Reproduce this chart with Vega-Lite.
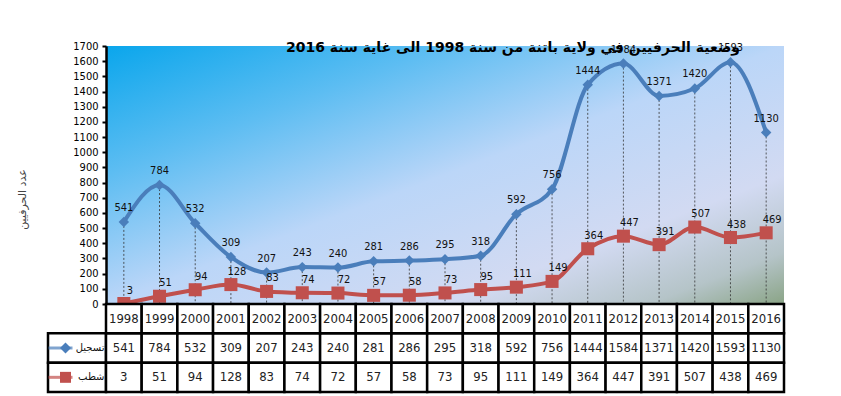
{
  "$schema": "https://vega.github.io/schema/vega-lite/v6.json",
  "background": "white",
  "padding": {"left": 16, "top": 40, "right": 0, "bottom": 0},
  "autosize": {"type": "pad"},
  "columns": 2,
  "spacing": 0,
  "bounds": "flush",
  "config": {"view": {"stroke": null}, "font": "DejaVu Sans Condensed, Liberation Sans Narrow, Liberation Sans, sans-serif"},
  "datasets": {
    "d": [
      {"year": "1998", "series": "تسجيل", "value": 541},
      {"year": "1999", "series": "تسجيل", "value": 784},
      {"year": "2000", "series": "تسجيل", "value": 532},
      {"year": "2001", "series": "تسجيل", "value": 309},
      {"year": "2002", "series": "تسجيل", "value": 207},
      {"year": "2003", "series": "تسجيل", "value": 243},
      {"year": "2004", "series": "تسجيل", "value": 240},
      {"year": "2005", "series": "تسجيل", "value": 281},
      {"year": "2006", "series": "تسجيل", "value": 286},
      {"year": "2007", "series": "تسجيل", "value": 295},
      {"year": "2008", "series": "تسجيل", "value": 318},
      {"year": "2009", "series": "تسجيل", "value": 592},
      {"year": "2010", "series": "تسجيل", "value": 756},
      {"year": "2011", "series": "تسجيل", "value": 1444},
      {"year": "2012", "series": "تسجيل", "value": 1584},
      {"year": "2013", "series": "تسجيل", "value": 1371},
      {"year": "2014", "series": "تسجيل", "value": 1420},
      {"year": "2015", "series": "تسجيل", "value": 1593},
      {"year": "2016", "series": "تسجيل", "value": 1130},
      {"year": "1998", "series": "شطب", "value": 3},
      {"year": "1999", "series": "شطب", "value": 51},
      {"year": "2000", "series": "شطب", "value": 94},
      {"year": "2001", "series": "شطب", "value": 128},
      {"year": "2002", "series": "شطب", "value": 83},
      {"year": "2003", "series": "شطب", "value": 74},
      {"year": "2004", "series": "شطب", "value": 72},
      {"year": "2005", "series": "شطب", "value": 57},
      {"year": "2006", "series": "شطب", "value": 58},
      {"year": "2007", "series": "شطب", "value": 73},
      {"year": "2008", "series": "شطب", "value": 95},
      {"year": "2009", "series": "شطب", "value": 111},
      {"year": "2010", "series": "شطب", "value": 149},
      {"year": "2011", "series": "شطب", "value": 364},
      {"year": "2012", "series": "شطب", "value": 447},
      {"year": "2013", "series": "شطب", "value": 391},
      {"year": "2014", "series": "شطب", "value": 507},
      {"year": "2015", "series": "شطب", "value": 438},
      {"year": "2016", "series": "شطب", "value": 469}
    ]
  },
  "concat": [
    {
      "width": 58,
      "height": 258,
      "data": {"values": [{"t": ""}]},
      "mark": {"type": "text"},
      "encoding": {"text": {"field": "t", "type": "nominal"}}
    },
    {
      "width": 678,
      "height": 258,
      "view": {
        "fill": {
          "gradient": "linear", "x1": 0, "y1": 0, "x2": 1, "y2": 1,
          "stops": [
            {"offset": 0, "color": "#0AA6EC"},
            {"offset": 0.25, "color": "#5DBDF2"},
            {"offset": 0.5, "color": "#BBD6F8"},
            {"offset": 0.75, "color": "#D2DAF2"},
            {"offset": 0.9, "color": "#B5C4C8"},
            {"offset": 1, "color": "#8AA486"}
          ]
        }
      },
      "title": {
        "text": "وضعية الحرفيين في ولاية باتنة من سنة 1998 الى غاية سنة 2016",
        "font": "DejaVu Sans", "fontSize": 14, "fontWeight": "bold", "color": "black",
        "anchor": "middle", "dx": 68, "offset": -15
      },
      "data": {"name": "d"},
      "encoding": {
        "x": {
          "field": "year", "type": "ordinal",
          "axis": {"labels": false, "ticks": false, "title": null, "domainColor": "black", "domainWidth": 3}
        },
        "y": {
          "field": "value", "type": "quantitative",
          "scale": {"domain": [0, 1700], "nice": false},
          "axis": {
            "values": [0,100,200,300,400,500,600,700,800,900,1000,1100,1200,1300,1400,1500,1600,1700],
            "format": "d",
            "title": "عدد الحرفيين", "titleFont": "DejaVu Sans", "titleFontSize": 11,
            "titleFontWeight": "normal", "titleColor": "#444", "titlePadding": 45, "titleY": 153,
            "labelFont": "DejaVu Sans Condensed, Liberation Sans Narrow, Liberation Sans, sans-serif",
            "labelFontSize": 11, "labelColor": "black",
            "labelPadding": 4, "labelOverlap": false, "labelFlush": false,
            "domainColor": "black", "domainWidth": 2.5,
            "tickColor": "black", "tickWidth": 2, "tickSize": 4, "grid": false
          }
        }
      },
      "layer": [
        {
          "transform": [{"filter": "datum.series === 'تسجيل'"}],
          "mark": {"type": "rule", "strokeDash": [2, 2], "color": "#333", "strokeWidth": 0.8},
          "encoding": {"y2": {"datum": 0}}
        },
        {
          "mark": {"type": "line", "strokeWidth": 4, "interpolate": "monotone"},
          "encoding": {
            "color": {"field": "series", "type": "nominal", "scale": {"domain": ["تسجيل", "شطب"], "range": ["#4A7EBB", "#C0504D"]}, "legend": null}
          }
        },
        {
          "mark": {"type": "point", "filled": true, "opacity": 1},
          "encoding": {
            "color": {"field": "series", "type": "nominal", "legend": null},
            "shape": {"field": "series", "type": "nominal", "scale": {"domain": ["تسجيل", "شطب"], "range": ["diamond", "square"]}, "legend": null},
            "size": {"field": "series", "type": "nominal", "scale": {"domain": ["تسجيل", "شطب"], "range": [110, 170]}, "legend": null}
          }
        },
        {
          "transform": [{"filter": "datum.series === 'تسجيل'"}],
          "mark": {"type": "text", "dy": -14, "fontSize": 11, "color": "#111"},
          "encoding": {"text": {"field": "value", "type": "nominal"}}
        },
        {
          "transform": [{"filter": "datum.series === 'شطب'"}],
          "mark": {"type": "text", "dy": -13, "dx": 6, "fontSize": 11, "color": "#111"},
          "encoding": {"text": {"field": "value", "type": "nominal"}}
        }
      ]
    },
    {
      "width": 58,
      "height": 88,
      "data": {"values": [{"series": "تسجيل"}, {"series": "شطب"}]},
      "encoding": {
        "y": {"field": "series", "type": "nominal", "axis": null, "scale": {"domain": ["year", "تسجيل", "شطب"], "paddingInner": 0, "paddingOuter": 0}}
      },
      "layer": [
        {"mark": {"type": "rect", "fill": "white", "stroke": "black", "strokeWidth": 2.5}},
        {
          "mark": {"type": "tick", "orient": "horizontal", "size": 24, "thickness": 3, "xOffset": -2},
          "encoding": {
            "x": {"datum": "icon", "type": "nominal", "axis": null, "scale": {"domain": ["icon", "label"], "paddingInner": 0, "paddingOuter": 0}},
            "color": {"field": "series", "type": "nominal", "scale": {"domain": ["تسجيل", "شطب"], "range": ["#4A7EBB", "#C0504D"]}, "legend": null}
          }
        },
        {
          "mark": {"type": "point", "filled": true, "opacity": 1, "size": 120, "xOffset": 3},
          "encoding": {
            "x": {"datum": "icon", "type": "nominal"},
            "color": {"field": "series", "type": "nominal", "legend": null},
            "shape": {"field": "series", "type": "nominal", "scale": {"domain": ["تسجيل", "شطب"], "range": ["diamond", "triangle-right"]}, "legend": null}
          }
        },
        {
          "mark": {"type": "text", "font": "DejaVu Sans", "fontSize": 10, "color": "#111", "align": "right", "dx": 13},
          "encoding": {
            "x": {"datum": "label", "type": "nominal"},
            "text": {"field": "series", "type": "nominal"}
          }
        }
      ]
    },
    {
      "width": 678,
      "height": 88,
      "data": {"name": "d"},
      "encoding": {
        "x": {"field": "year", "type": "ordinal", "axis": null, "scale": {"paddingInner": 0, "paddingOuter": 0}}
      },
      "layer": [
        {
          "mark": {"type": "rect", "fill": "white", "stroke": "black", "strokeWidth": 2.5},
          "encoding": {
            "y": {"field": "series", "type": "nominal", "axis": null, "scale": {"domain": ["year", "تسجيل", "شطب"], "paddingInner": 0, "paddingOuter": 0}}
          }
        },
        {
          "transform": [{"filter": "datum.series === 'تسجيل'"}],
          "mark": {"type": "rect", "fill": "white", "stroke": "black", "strokeWidth": 2.5},
          "encoding": {"y": {"datum": "year", "type": "nominal"}}
        },
        {
          "mark": {"type": "text", "fontSize": 13, "color": "#222"},
          "encoding": {
            "y": {"field": "series", "type": "nominal"},
            "text": {"field": "value", "type": "nominal"}
          }
        },
        {
          "transform": [{"filter": "datum.series === 'تسجيل'"}],
          "mark": {"type": "text", "fontSize": 13, "color": "#222"},
          "encoding": {
            "y": {"datum": "year", "type": "nominal"},
            "text": {"field": "year", "type": "nominal"}
          }
        }
      ]
    }
  ]
}
